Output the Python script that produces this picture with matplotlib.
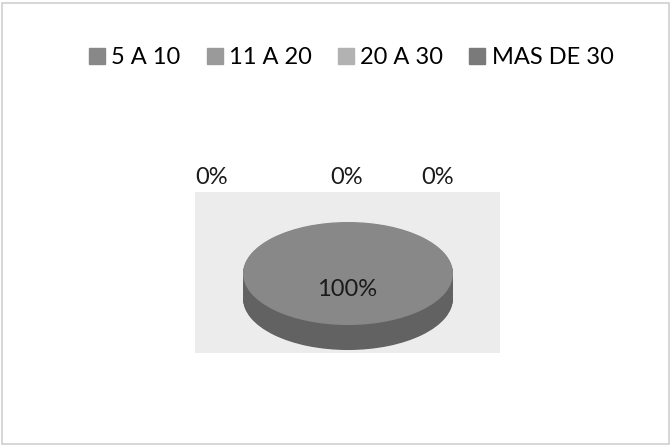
import matplotlib.pyplot as plt
from matplotlib.lines import Line2D
from matplotlib.patches import Rectangle

# survey answers (share of respondents per range)
categories = ["5 A 10", "11 A 20", "20 A 30", "MAS DE 30"]
values = [100, 0, 0, 0]
top_colors = ["#888888", "#9a9a9a", "#b2b2b2", "#7a7a7a"]
side_colors = ["#626262", "#7c7c7c", "#939393", "#5c5c5c"]

W, H = 672, 446
fig = plt.figure(figsize=(W / 100, H / 100), dpi=100)
fig.patch.set_facecolor("white")
plt.rcParams["font.family"] = ["Lato", "DejaVu Sans"]

def px_box(x0, y0, x1, y1):
    # pixel box (top-left origin) -> figure fraction rect
    return [x0 / W, 1 - y1 / H, (x1 - x0) / W, (y1 - y0) / H]

# outer chart border
fig.patches.append(Rectangle((2 / W, 2 / H), 1 - 5 / W, 1 - 5 / H,
                             transform=fig.transFigure, fill=False,
                             edgecolor="#cfcfcf", linewidth=1.2))

# grey plot area behind the pie
bg = fig.add_axes(px_box(195, 192, 500, 353))
bg.set_facecolor("#ececec")
bg.set_xticks([])
bg.set_yticks([])
for s in bg.spines.values():
    s.set_visible(False)

# pie drawn in an axes squashed vertically to look tilted
ax = fig.add_axes(px_box(243, 222, 453, 350))
depth = 0.485
steps = 40
for i in range(steps, 0, -1):
    dz = depth * i / steps
    ax.pie(values, colors=side_colors, startangle=90, counterclock=False,
           center=(0, -dz), wedgeprops=dict(linewidth=0))
ax.pie(values, colors=top_colors, startangle=90, counterclock=False,
       center=(0, 0), wedgeprops=dict(linewidth=0))
ax.set_aspect("auto")
ax.set_xlim(-1, 1)
ax.set_ylim(-1 - depth, 1)
ax.axis("off")

# data labels
total = sum(values)
label_pos = [(347, 289), (212, 178), (347, 178), (438, 178)]
for v, (x, y) in zip(values, label_pos):
    fig.text(x / W, 1 - y / H, f"{v / total:.0%}", ha="center", va="center",
             fontsize=17, color="#1a1a1a")

# legend across the top
handles = [Line2D([], [], marker="s", linestyle="none", markersize=12,
                  markerfacecolor=c, markeredgecolor=c) for c in top_colors]
fig.legend(handles, categories, loc="center", bbox_to_anchor=(350 / W, 1 - 58 / H),
           ncol=4, frameon=False, handletextpad=0.15,
           columnspacing=1.0, handlelength=0.9, prop={"size": 17})

fig.savefig("out.png", dpi=100)
